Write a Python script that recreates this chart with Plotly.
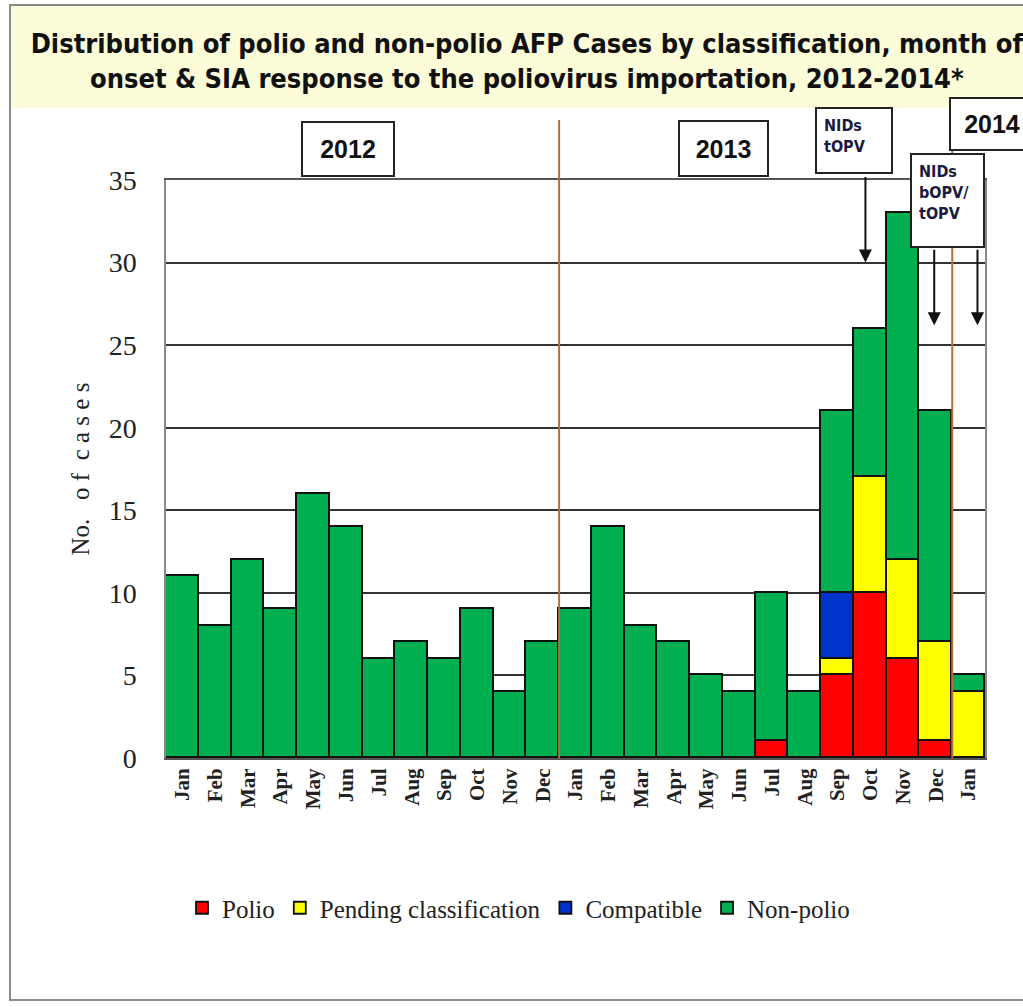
import plotly.graph_objects as go

months = ["Jan", "Feb", "Mar", "Apr", "May", "Jun", "Jul", "Aug", "Sep", "Oct", "Nov", "Dec",
          "Jan", "Feb", "Mar", "Apr", "May", "Jun", "Jul", "Aug", "Sep", "Oct", "Nov", "Dec",
          "Jan"]
polio =      [0, 0, 0, 0, 0, 0, 0, 0, 0, 0, 0, 0,   0, 0, 0, 0, 0, 0, 1, 0, 5, 10, 6, 1,   0]
pending =    [0, 0, 0, 0, 0, 0, 0, 0, 0, 0, 0, 0,   0, 0, 0, 0, 0, 0, 0, 0, 1, 7, 6, 6,    4]
compatible = [0, 0, 0, 0, 0, 0, 0, 0, 0, 0, 0, 0,   0, 0, 0, 0, 0, 0, 0, 0, 4, 0, 0, 0,    0]
nonpolio =   [11, 8, 12, 9, 16, 14, 6, 7, 6, 9, 4, 7, 9, 14, 8, 7, 5, 4, 9, 4, 11, 9, 21, 14, 1]
years = ["2012", "2013", "2014"]
yticks = [0, 5, 10, 15, 20, 25, 30, 35]

x = list(range(len(months)))

# pixel geometry helpers (plot area 166..985 x 180..758)
L, R, T, B = 166, 985, 180, 758
W, H = R - L, B - T
def px(v):
    return (v - L) / W
def py(v):
    return (B - v) / H

NARROW = "DejaVu Sans Condensed, Liberation Sans Narrow, Arial Narrow, sans-serif"
SERIF = "Liberation Serif, Times New Roman, serif"

fig = go.Figure()
series = [("Polio", polio, "#FF0000"), ("Pending classification", pending, "#FFFF00"),
          ("Compatible", compatible, "#0033CC"), ("Non-polio", nonpolio, "#00B050")]
for name, vals, col in series:
    fig.add_trace(go.Bar(x=x, y=vals, name=name, width=1,
                         marker=dict(color=col, line=dict(color="#111111", width=1.8))))

shapes = []
# yellow title band
shapes.append(dict(type="rect", xref="paper", yref="paper", x0=px(10), x1=px(1030), y0=py(108), y1=py(5),
                   fillcolor="#FCFCD9", line=dict(width=0), layer="below"))
# outer frame
shapes.append(dict(type="rect", xref="paper", yref="paper", x0=px(10), x1=px(1040), y0=py(1000), y1=py(5),
                   fillcolor="rgba(0,0,0,0)", line=dict(color="#8a8a8a", width=2), layer="below"))
# year dividers
shapes.append(dict(type="line", xref="x", yref="paper", x0=11.5, x1=11.5, y0=0, y1=py(120),
                   line=dict(color="#B07040", width=2)))
shapes.append(dict(type="line", xref="x", yref="paper", x0=23.5, x1=23.5, y0=0, y1=py(100),
                   line=dict(color="#B07040", width=2)))

annotations = []
# year boxes
for yr, cx, cy, w, h in zip(years, [348, 723, 992], [149, 149, 124], [88, 85, 80], [50, 51, 48]):
    annotations.append(dict(text="<b>" + yr + "</b>", xref="paper", yref="paper", x=px(cx), y=py(cy),
                            xanchor="center", yanchor="middle",
                            showarrow=False, width=w, height=h, bgcolor="white", bordercolor="#222",
                            borderwidth=2, font=dict(family="Liberation Sans, Arial, sans-serif", size=25, color="#111")))
# NIDs boxes
annotations.append(dict(text="<b>NIDs<br>tOPV</b>", xref="paper", yref="paper", x=px(854), y=py(141),
                        xanchor="center", yanchor="middle",
                        showarrow=False, width=60, height=49, align="left", valign="top", borderpad=7,
                        bgcolor="white", bordercolor="#222", borderwidth=2,
                        font=dict(family=NARROW, size=16, color="#1a1a40")))
annotations.append(dict(text="<b>NIDs<br>bOPV/<br>tOPV</b>", xref="paper", yref="paper", x=px(947), y=py(200),
                        xanchor="center", yanchor="middle",
                        showarrow=False, width=57, height=77, align="left", valign="top", borderpad=7,
                        bgcolor="white", bordercolor="#222", borderwidth=2,
                        font=dict(family=NARROW, size=16, color="#1a1a40")))
# arrows
for ax_x, tip_y, tail_px in [(20.85, 30.0, 87), (22.95, 26.2, 77), (24.27, 26.2, 77)]:
    annotations.append(dict(text="", x=ax_x, y=tip_y, xref="x", yref="y", showarrow=True,
                            ax=0, ay=-tail_px, arrowhead=2, arrowsize=1.3, arrowwidth=2, arrowcolor="#111"))

fig.update_layout(
    width=1023, height=1007,
    margin=dict(l=L, r=1023 - R, t=T, b=1007 - B),
    paper_bgcolor="white", plot_bgcolor="white",
    barmode="stack", bargap=0,
    title=dict(text="<b>Distribution of polio and non-polio AFP Cases by classification, month of<br>"
                    "onset &amp; SIA response to the poliovirus importation, 2012-2014*</b>",
               x=0.515, xanchor="center", xref="container", y=1 - 53 / 1007, yanchor="top", yref="container",
               font=dict(family=NARROW, size=27, color="#111")),
    xaxis=dict(range=[-0.5, 24.5], tickmode="array", tickvals=x,
               ticktext=["<b>" + m + "</b>" for m in months], tickangle=-90,
               tickfont=dict(family=SERIF, size=21, color="#222"),
               showline=True, linecolor="#555", linewidth=2, mirror=True, showgrid=False,
               ticks="", fixedrange=True),
    yaxis=dict(range=[0, 35], tickmode="array", tickvals=yticks,
               tickfont=dict(family=SERIF, size=28, color="#222"),
               showgrid=True, gridcolor="#333", gridwidth=1.5, zeroline=False,
               showline=True, linecolor="#888", linewidth=1.5, mirror=True,
               ticks="", ticklabelstandoff=22,
               title=dict(text="No.   o f  c a s e s", standoff=12,
                          font=dict(family=SERIF, size=25, color="#222"))),
    legend=dict(orientation="h", x=px(182), xanchor="left", y=py(885), yanchor="top",
                font=dict(family=SERIF, size=25, color="#222"),
                itemwidth=30, traceorder="normal", bgcolor="rgba(0,0,0,0)"),
    shapes=shapes, annotations=annotations,
    showlegend=True,
)

fig.write_html("out.html", config={"displayModeBar": False},
               post_script="document.body.style.margin='0';")
